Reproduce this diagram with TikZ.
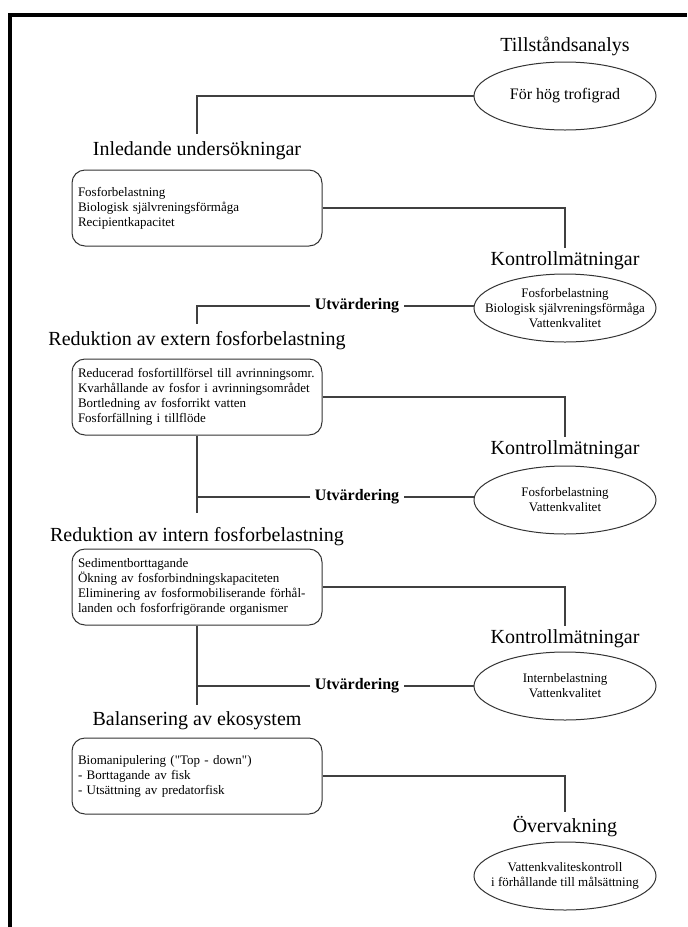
\documentclass[tikz,border=0pt]{standalone}
\usepackage{fontspec}
\setmainfont{Liberation Serif}
\usetikzlibrary{positioning}
\usetikzlibrary{shapes}
\tikzset{
  heading/.style={font=\fontsize{10}{12}\selectfont, inner sep=0},
  stagebox/.style={draw=black!80, line width=0.5pt, rounded corners=6.5pt,
    minimum width=125pt, minimum height=38pt, text width=119pt, inner xsep=3pt,
    align=left, font=\fontsize{6.5}{7.5}\selectfont},
  oval/.style={draw=black!80, line width=0.5pt, ellipse,
    minimum width=91pt, minimum height=34pt, inner sep=0},
  ovaltext/.style={align=center, inner sep=0, font=\fontsize{6.5}{7.5}\selectfont},
  evaltag/.style={font=\bfseries\fontsize{8}{9}\selectfont, inner sep=2pt},
  link/.style={draw=black!75, line width=0.7pt}
}
\begin{document}
\begin{tikzpicture}[x=0.5pt, y=-0.5pt]
\useasboundingbox (0,0) rectangle (687,927);
\draw[line width=2.3pt] (10,927) -- (10,15) -- (687,15);

% right column: state and control measurements
\node[oval, label={[ovaltext, font=\fontsize{8}{9}\selectfont]center:För hög trofigrad}] (state) at (565,96) {};
\node[heading, above=2.5pt of state] (stateT) {Tillståndsanalys};
\node[oval, label={[ovaltext]center:{Fosforbelastning\\Biologisk självreningsförmåga\\Vattenkvalitet}}] (ctrlA) at (565,308) {};
\node[heading, above=1.5pt of ctrlA] (ctrlAT) {Kontrollmätningar};
\node[oval, label={[ovaltext]center:{Fosforbelastning\\Vattenkvalitet}}] (ctrlB) at (565,500) {};
\node[heading, above=3pt of ctrlB] (ctrlBT) {Kontrollmätningar};
\node[oval, label={[ovaltext]center:{Internbelastning\\Vattenkvalitet}}] (ctrlC) at (565,686) {};
\node[heading, above=1.5pt of ctrlC] (ctrlCT) {Kontrollmätningar};
\node[oval, label={[ovaltext]center:{Vattenkvaliteskontroll\\i förhållande till målsättning}}] (watch) at (565,876) {};
\node[heading, above=2pt of watch] (watchT) {Övervakning};

% left column: measures
\node[stagebox] (intro) at (197,208) {Fosforbelastning\\Biologisk självreningsförmåga\\Recipientkapacitet};
\node[heading, above=4.5pt of intro] (introT) {Inledande undersökningar};
\node[stagebox] (extern) at (197,397) {Reducerad fosfortillförsel till avrinningsomr.\\Kvarhållande av fosfor i avrinningsområdet\\Bortledning av fosforrikt vatten\\Fosforfällning i tillflöde};
\node[heading, above=4pt of extern] (externT) {Reduktion av extern fosforbelastning};
\node[stagebox] (intern) at (197,587) {Sedimentborttagande\\Ökning av fosforbindningskapaciteten\\Eliminering av fosformobiliserande förhål-\\landen och fosforfrigörande organismer};
\node[heading, above=1pt of intern] (internT) {Reduktion av intern fosforbelastning};
\node[stagebox] (balance) at (197,776) {Biomanipulering (\textquotedbl Top - down\textquotedbl)\\- Borttagande av fisk\\- Utsättning av predatorfisk};
\node[heading, above=3.8pt of balance] (balanceT) {Balansering av ekosystem};

% evaluations
\node[evaltag] (evalA) at (357,306) {Utvärdering};
\node[evaltag] (evalB) at (357,497) {Utvärdering};
\node[evaltag] (evalC) at (357,686) {Utvärdering};

% connectors
\draw[link] (state.west) -| ([yshift=4pt]introT.north);
\draw[link] (intro.east) -| ([yshift=2pt]ctrlAT.north);
\draw[link] (ctrlA.west |- evalA) -- (evalA.east);
\draw[link] (evalA.west) -| ([yshift=3.5pt]externT.north);
\draw[link] (extern.east) -| ([yshift=2pt]ctrlBT.north);
\draw[link] (extern.south) -- ([yshift=7pt]internT.north);
\draw[link] (evalB.west) -- (evalB.west -| extern.south);
\draw[link] (ctrlB.west |- evalB) -- (evalB.east);
\draw[link] (intern.east) -| ([yshift=2pt]ctrlCT.north);
\draw[link] (intern.south) -- ([yshift=3pt]balanceT.north);
\draw[link] (evalC.west) -- (evalC.west -| intern.south);
\draw[link] (ctrlC.west) -- (evalC.east);
\draw[link] (balance.east) -| ([yshift=2pt]watchT.north);
\end{tikzpicture}
\end{document}
